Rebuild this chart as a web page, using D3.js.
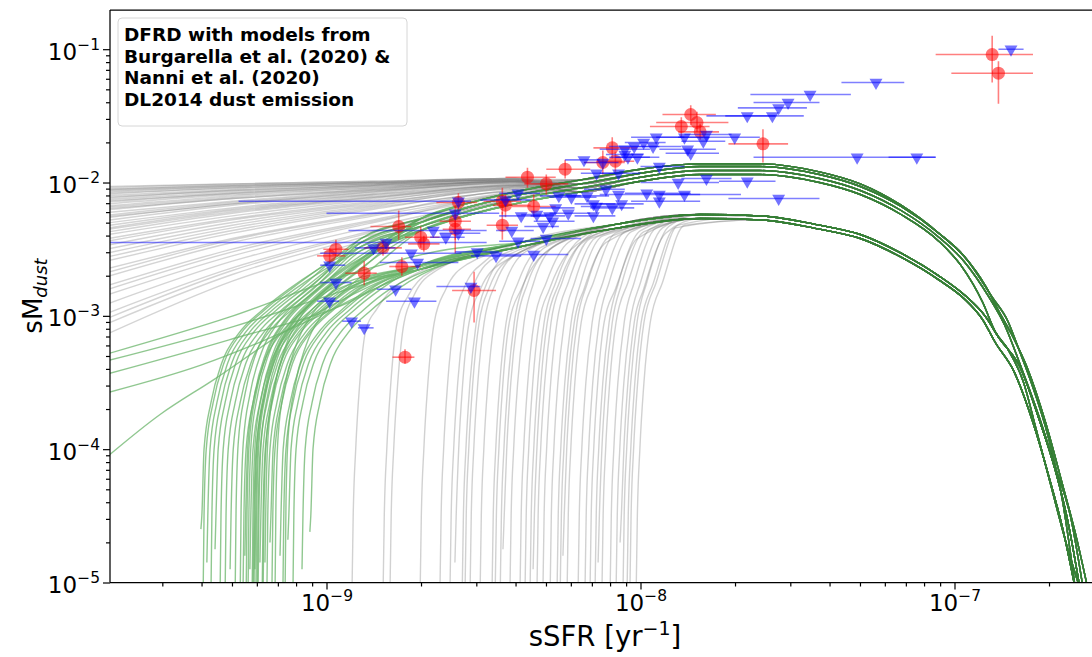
<!DOCTYPE html>
<html>
<head>
<meta charset="utf-8">
<script src="https://cdn.jsdelivr.net/npm/d3@7"></script>
<style>
  body { margin: 0; background: #fff; }
  svg { display: block; }
  text { font-family: "DejaVu Sans", sans-serif; }
</style>
</head>
<body>
<svg id="chart" width="1092" height="657"></svg>
<script>
// All values are log10(sSFR / yr^-1) and log10(sMdust)

// Tick exponents
const xTickExps = [-9, -8, -7];
const yTickExps = [-5, -4, -3, -2, -1];

// Convergence tracks of the models (upper and lower bundles)
const trackU0 = [[-9.08,-2.66],[-8.89,-2.48],[-8.70,-2.33],[-8.54,-2.21],[-8.38,-2.12],[-8.19,-2.04],[-8.00,-1.96],[-7.81,-1.91],[-7.62,-1.91],[-7.43,-1.97],[-7.30,-2.06],[-7.17,-2.21],[-7.05,-2.41],[-6.97,-2.59],[-6.89,-2.86],[-6.84,-3.07],[-6.79,-3.37],[-6.73,-3.76],[-6.68,-4.13],[-6.63,-4.51],[-6.59,-5.05]];
const trackU1 = [[-9.08,-2.63],[-8.89,-2.45],[-8.70,-2.30],[-8.54,-2.18],[-8.38,-2.09],[-8.19,-2.01],[-8.00,-1.93],[-7.81,-1.88],[-7.62,-1.88],[-7.43,-1.94],[-7.30,-2.03],[-7.17,-2.18],[-7.05,-2.38],[-6.97,-2.55],[-6.90,-2.78],[-6.86,-2.96],[-6.82,-3.13],[-6.77,-3.38],[-6.71,-3.80],[-6.66,-4.23],[-6.61,-4.68],[-6.575,-5.05]];
const trackU2 = [[-9.08,-2.69],[-8.89,-2.51],[-8.70,-2.36],[-8.54,-2.24],[-8.38,-2.15],[-8.19,-2.07],[-8.00,-1.99],[-7.81,-1.94],[-7.62,-1.94],[-7.43,-2.00],[-7.30,-2.09],[-7.17,-2.24],[-7.05,-2.44],[-6.98,-2.62],[-6.91,-2.90],[-6.87,-3.12],[-6.83,-3.25],[-6.78,-3.50],[-6.74,-3.85],[-6.69,-4.30],[-6.645,-4.70],[-6.60,-5.05]];
const trackU3 = [[-9.08,-2.60],[-8.89,-2.42],[-8.70,-2.27],[-8.54,-2.15],[-8.38,-2.06],[-8.19,-1.98],[-8.00,-1.90],[-7.81,-1.86],[-7.62,-1.86],[-7.43,-1.92],[-7.30,-2.01],[-7.17,-2.17],[-7.05,-2.38],[-6.96,-2.58],[-6.88,-2.86],[-6.83,-3.04],[-6.80,-3.22],[-6.76,-3.47],[-6.70,-3.92],[-6.655,-4.40],[-6.615,-5.05]];
const trackL0 = [[-8.99,-2.88],[-8.70,-2.62],[-8.38,-2.45],[-8.07,-2.31],[-7.81,-2.24],[-7.62,-2.25],[-7.43,-2.32],[-7.30,-2.39],[-7.17,-2.53],[-7.05,-2.70],[-6.97,-2.84],[-6.90,-3.01],[-6.86,-3.16],[-6.79,-3.39],[-6.73,-3.78],[-6.68,-4.15],[-6.64,-4.53],[-6.60,-5.05]];
const trackL1 = [[-8.99,-2.91],[-8.70,-2.65],[-8.38,-2.48],[-8.07,-2.34],[-7.81,-2.27],[-7.62,-2.28],[-7.43,-2.35],[-7.30,-2.42],[-7.17,-2.56],[-7.05,-2.73],[-6.97,-2.87],[-6.91,-3.03],[-6.87,-3.20],[-6.81,-3.42],[-6.75,-3.80],[-6.70,-4.20],[-6.655,-4.60],[-6.615,-5.05]];

// Gray models coming in flat from the left, sampled on flatGrid
const flatGrid = [-9.72, -9.30, -8.85, -8.40];
const grayFlat = [
  ["U0",-2.03,-2.01,-1.99,-1.97],["U1",-2.04,-2.01,-1.99,-1.97],["U2",-2.05,-2.02,-2.00,-1.97],["U3",-2.055,-2.02,-2.00,-1.97],
  ["U0",-2.06,-2.03,-2.00,-1.98],["U1",-2.07,-2.03,-2.00,-1.98],["U2",-2.08,-2.04,-2.01,-1.98],["U3",-2.09,-2.04,-2.01,-1.98],
  ["U0",-2.10,-2.05,-2.01,-1.98],["U1",-2.11,-2.06,-2.02,-1.98],["U2",-2.12,-2.06,-2.02,-1.98],["U3",-2.13,-2.07,-2.02,-1.99],
  ["U0",-2.14,-2.08,-2.03,-1.99],["U1",-2.15,-2.08,-2.03,-1.99],["U2",-2.165,-2.09,-2.04,-1.99],["U3",-2.18,-2.10,-2.04,-1.99],
  ["U0",-2.19,-2.11,-2.05,-1.99],["U1",-2.20,-2.12,-2.05,-1.99],["U2",-2.21,-2.12,-2.06,-1.99],["U3",-2.23,-2.14,-2.06,-2.00],
  ["U0",-2.25,-2.15,-2.07,-2.00],["U1",-2.26,-2.16,-2.07,-2.00],["U2",-2.27,-2.16,-2.08,-2.00],["U3",-2.29,-2.17,-2.09,-2.01],
  ["U0",-2.31,-2.19,-2.09,-2.01],["U1",-2.33,-2.20,-2.10,-2.02],["U2",-2.35,-2.21,-2.11,-2.02],["U3",-2.36,-2.22,-2.11,-2.02],
  ["U0",-2.38,-2.23,-2.12,-2.02],["U1",-2.40,-2.25,-2.13,-2.03],["U2",-2.43,-2.27,-2.14,-2.03],["U3",-2.45,-2.28,-2.15,-2.03],
  ["U0",-2.48,-2.30,-2.16,-2.04],["U1",-2.51,-2.32,-2.17,-2.04],["U2",-2.54,-2.34,-2.18,-2.05],["U3",-2.57,-2.36,-2.19,-2.05],
  ["U0",-2.60,-2.38,-2.20,-2.06],["U1",-2.66,-2.42,-2.23,-2.07],["U2",-2.69,-2.43,-2.24,-2.07],["U3",-2.72,-2.45,-2.25,-2.07],
  ["U0",-2.79,-2.50,-2.28,-2.08],["U1",-2.82,-2.52,-2.29,-2.09],["U2",-2.86,-2.55,-2.30,-2.09],["U3",-2.93,-2.59,-2.33,-2.10],
  ["U0",-3.00,-2.64,-2.36,-2.12],["U1",-3.04,-2.66,-2.37,-2.12],["U2",-3.08,-2.69,-2.39,-2.13],["U3",-3.16,-2.74,-2.42,-2.14]
];

// Gray models rising steeply from the bottom
const grayRise = [
  ["L0",[[-8.919,-5.1],[-8.915,-4.5],[-8.907,-4.0],[-8.894,-3.5],[-8.874,-3.1],[-8.84,-2.95],[-8.77,-2.76]]],
  ["L1",[[-8.820,-5.1],[-8.816,-4.5],[-8.808,-4.0],[-8.795,-3.5],[-8.775,-3.05],[-8.74,-2.85],[-8.67,-2.67]]],
  ["L0",[[-8.798,-5.1],[-8.794,-4.5],[-8.786,-4.0],[-8.773,-3.5],[-8.753,-3.05],[-8.72,-2.84],[-8.65,-2.66]]],
  ["L1",[[-8.702,-5.1],[-8.698,-4.5],[-8.690,-4.0],[-8.677,-3.5],[-8.657,-3.05],[-8.62,-2.80],[-8.55,-2.61]]],
  ["L0",[[-8.639,-5.1],[-8.635,-4.5],[-8.627,-4.0],[-8.614,-3.5],[-8.594,-3.05],[-8.56,-2.78],[-8.49,-2.58]]],
  ["L1",[[-8.607,-5.1],[-8.603,-4.5],[-8.595,-4.0],[-8.582,-3.5],[-8.562,-3.05],[-8.53,-2.76],[-8.46,-2.56]]],
  ["L0",[[-8.591,-4.85],[-8.587,-4.5],[-8.579,-4.0],[-8.566,-3.5],[-8.546,-3.05],[-8.51,-2.80],[-8.44,-2.60]]],
  ["L1",[[-8.568,-5.1],[-8.564,-4.5],[-8.556,-4.0],[-8.543,-3.5],[-8.523,-3.05],[-8.49,-2.76],[-8.42,-2.54]]],
  ["L0",[[-8.559,-5.1],[-8.555,-4.5],[-8.547,-4.0],[-8.534,-3.5],[-8.514,-3.05],[-8.48,-2.78],[-8.41,-2.56]]],
  ["L1",[[-8.543,-5.1],[-8.539,-4.5],[-8.531,-4.0],[-8.518,-3.5],[-8.498,-3.05],[-8.46,-2.75],[-8.39,-2.53]]],
  ["L0",[[-8.511,-5.1],[-8.507,-4.5],[-8.499,-4.0],[-8.486,-3.5],[-8.466,-3.05],[-8.43,-2.75],[-8.36,-2.51]]],
  ["L1",[[-8.473,-5.1],[-8.469,-4.5],[-8.461,-4.0],[-8.448,-3.5],[-8.428,-3.05],[-8.39,-2.75],[-8.32,-2.49]]],
  ["L0",[[-8.463,-5.1],[-8.459,-4.5],[-8.451,-4.0],[-8.438,-3.5],[-8.418,-3.05],[-8.38,-2.80],[-8.31,-2.54]]],
  ["L1",[[-8.447,-5.1],[-8.443,-4.5],[-8.435,-4.0],[-8.422,-3.5],[-8.402,-3.05],[-8.37,-2.75],[-8.30,-2.48]]],
  ["L0",[[-8.438,-4.75],[-8.434,-4.5],[-8.426,-4.0],[-8.413,-3.5],[-8.393,-3.05],[-8.36,-2.76],[-8.29,-2.50]]],
  ["L1",[[-8.416,-5.1],[-8.412,-4.5],[-8.404,-4.0],[-8.391,-3.5],[-8.371,-3.05],[-8.34,-2.75],[-8.27,-2.47]]],
  ["L0",[[-8.384,-5.1],[-8.380,-4.5],[-8.372,-4.0],[-8.359,-3.5],[-8.339,-3.05],[-8.30,-2.75],[-8.23,-2.45]]],
  ["L1",[[-8.368,-5.1],[-8.364,-4.5],[-8.356,-4.0],[-8.343,-3.5],[-8.323,-3.05],[-8.29,-2.80],[-8.22,-2.50]]],
  ["L0",[[-8.352,-5.1],[-8.348,-4.5],[-8.340,-4.0],[-8.327,-3.5],[-8.307,-3.05],[-8.27,-2.75],[-8.20,-2.44]]],
  ["L1",[[-8.342,-4.9],[-8.338,-4.5],[-8.330,-4.0],[-8.317,-3.5],[-8.297,-3.05],[-8.26,-2.76],[-8.19,-2.46]]],
  ["L0",[[-8.330,-5.1],[-8.326,-4.5],[-8.318,-4.0],[-8.305,-3.5],[-8.285,-3.05],[-8.25,-2.75],[-8.18,-2.43]]],
  ["L1",[[-8.311,-5.1],[-8.307,-4.5],[-8.299,-4.0],[-8.286,-3.5],[-8.266,-3.05],[-8.23,-2.75],[-8.16,-2.42]]],
  ["L0",[[-8.288,-5.1],[-8.284,-4.5],[-8.276,-4.0],[-8.263,-3.5],[-8.243,-3.05],[-8.21,-2.75],[-8.14,-2.41]]],
  ["L1",[[-8.266,-5.1],[-8.262,-4.5],[-8.254,-4.0],[-8.241,-3.5],[-8.221,-3.05],[-8.19,-2.75],[-8.12,-2.40]]],
  ["L0",[[-8.256,-5.1],[-8.252,-4.5],[-8.244,-4.0],[-8.231,-3.5],[-8.211,-3.05],[-8.18,-2.80],[-8.11,-2.45]]],
  ["L1",[[-8.247,-4.8],[-8.243,-4.5],[-8.235,-4.0],[-8.222,-3.5],[-8.202,-3.05],[-8.17,-2.76],[-8.10,-2.41]]],
  ["L0",[[-8.234,-5.1],[-8.230,-4.5],[-8.222,-4.0],[-8.209,-3.5],[-8.189,-3.05],[-8.15,-2.75],[-8.08,-2.38]]],
  ["L1",[[-8.199,-5.1],[-8.195,-4.5],[-8.187,-4.0],[-8.174,-3.5],[-8.154,-3.05],[-8.12,-2.75],[-8.05,-2.37]]],
  ["L0",[[-8.177,-5.1],[-8.173,-4.5],[-8.165,-4.0],[-8.152,-3.5],[-8.132,-3.05],[-8.10,-2.75],[-8.03,-2.37]]],
  ["L1",[[-8.161,-5.1],[-8.157,-4.5],[-8.149,-4.0],[-8.136,-3.5],[-8.116,-3.05],[-8.08,-2.80],[-8.01,-2.42]]],
  ["L0",[[-8.145,-5.1],[-8.141,-4.5],[-8.133,-4.0],[-8.120,-3.5],[-8.100,-3.05],[-8.07,-2.75],[-8.00,-2.36]]],
  ["L1",[[-8.135,-4.85],[-8.131,-4.5],[-8.123,-4.0],[-8.110,-3.5],[-8.090,-3.05],[-8.06,-2.76],[-7.99,-2.37]]],
  ["L0",[[-8.123,-5.1],[-8.119,-4.5],[-8.111,-4.0],[-8.098,-3.5],[-8.078,-3.05],[-8.04,-2.75],[-7.97,-2.35]]],
  ["L1",[[-8.097,-5.1],[-8.093,-4.5],[-8.085,-4.0],[-8.072,-3.5],[-8.052,-3.05],[-8.02,-2.75],[-7.95,-2.34]]],
  ["L0",[[-8.078,-5.1],[-8.074,-4.5],[-8.066,-4.0],[-8.053,-3.5],[-8.033,-3.05],[-8.00,-2.75],[-7.93,-2.34]]],
  ["L1",[[-8.065,-4.7],[-8.061,-4.5],[-8.053,-4.0],[-8.040,-3.5],[-8.020,-3.05],[-7.99,-2.80],[-7.92,-2.38]]],
  ["L0",[[-8.056,-5.1],[-8.052,-4.5],[-8.044,-4.0],[-8.031,-3.5],[-8.011,-3.05],[-7.98,-2.75],[-7.91,-2.33]]],
  ["L1",[[-8.043,-5.1],[-8.039,-4.5],[-8.031,-4.0],[-8.018,-3.5],[-7.998,-3.05],[-7.96,-2.76],[-7.89,-2.34]]],
  ["L0",[[-8.034,-5.1],[-8.030,-4.5],[-8.022,-4.0],[-8.009,-3.5],[-7.989,-3.05],[-7.95,-2.75],[-7.88,-2.32]]],
  ["L1",[[-8.014,-5.1],[-8.010,-4.5],[-8.002,-4.0],[-7.989,-3.5],[-7.969,-3.05],[-7.93,-2.75],[-7.86,-2.32]]]
];

// Green models rising from the bottom at low sSFR
const greenRise = [
  ["U0",[[-9.400,-4.6],[-9.397,-4.5],[-9.390,-4.0],[-9.368,-3.65],[-9.333,-3.35],[-9.279,-3.13],[-9.206,-2.96],[-9.120,-2.80]]],
  ["U1",[[-9.393,-5.1],[-9.390,-4.5],[-9.383,-4.0],[-9.361,-3.65],[-9.326,-3.35],[-9.272,-3.13],[-9.199,-2.96],[-9.113,-2.80]]],
  ["U2",[[-9.381,-4.85],[-9.378,-4.5],[-9.371,-4.0],[-9.349,-3.65],[-9.314,-3.35],[-9.260,-3.13],[-9.187,-2.96],[-9.101,-2.80]]],
  ["U3",[[-9.368,-5.1],[-9.365,-4.5],[-9.358,-4.0],[-9.336,-3.65],[-9.301,-3.35],[-9.247,-3.13],[-9.174,-2.96],[-9.088,-2.80]]],
  ["U0",[[-9.355,-4.75],[-9.352,-4.5],[-9.345,-4.0],[-9.323,-3.65],[-9.288,-3.35],[-9.234,-3.13],[-9.161,-2.96],[-9.075,-2.80]]],
  ["U1",[[-9.339,-5.1],[-9.336,-4.5],[-9.329,-4.0],[-9.307,-3.65],[-9.272,-3.35],[-9.218,-3.13],[-9.145,-2.96],[-9.059,-2.80]]],
  ["U1",[[-9.323,-5.1],[-9.320,-4.5],[-9.313,-4.0],[-9.291,-3.65],[-9.256,-3.35],[-9.202,-3.13],[-9.129,-2.96],[-9.043,-2.80]]],
  ["U2",[[-9.307,-4.9],[-9.304,-4.5],[-9.297,-4.0],[-9.275,-3.65],[-9.240,-3.35],[-9.186,-3.13],[-9.113,-2.96],[-9.027,-2.80]]],
  ["U3",[[-9.291,-5.1],[-9.288,-4.45],[-9.281,-3.95],[-9.259,-3.58],[-9.224,-3.28],[-9.170,-3.05],[-9.097,-2.87],[-9.011,-2.70]]],
  ["U0",[[-9.275,-5.1],[-9.272,-4.45],[-9.265,-3.95],[-9.243,-3.58],[-9.208,-3.28],[-9.154,-3.05],[-9.081,-2.87],[-8.995,-2.70]]],
  ["L0",[[-9.266,-5.1],[-9.263,-4.5],[-9.256,-4.0],[-9.234,-3.65],[-9.199,-3.35],[-9.145,-3.13],[-9.072,-2.96],[-8.986,-2.80]]],
  ["U1",[[-9.260,-4.8],[-9.257,-4.45],[-9.250,-3.95],[-9.228,-3.58],[-9.193,-3.28],[-9.139,-3.05],[-9.066,-2.87],[-8.980,-2.70]]],
  ["U2",[[-9.256,-5.1],[-9.253,-4.45],[-9.246,-3.95],[-9.224,-3.58],[-9.189,-3.28],[-9.135,-3.05],[-9.062,-2.87],[-8.976,-2.70]]],
  ["U2",[[-9.250,-5.1],[-9.247,-4.45],[-9.240,-3.95],[-9.218,-3.58],[-9.183,-3.28],[-9.129,-3.05],[-9.056,-2.87],[-8.970,-2.70]]],
  ["L1",[[-9.244,-4.9],[-9.241,-4.5],[-9.234,-4.0],[-9.212,-3.65],[-9.177,-3.35],[-9.123,-3.13],[-9.050,-2.96],[-8.964,-2.80]]],
  ["U3",[[-9.237,-5.1],[-9.234,-4.45],[-9.227,-3.95],[-9.205,-3.58],[-9.170,-3.28],[-9.116,-3.05],[-9.043,-2.87],[-8.957,-2.70]]],
  ["L0",[[-9.234,-5.1],[-9.231,-4.5],[-9.224,-4.0],[-9.202,-3.65],[-9.167,-3.35],[-9.113,-3.13],[-9.040,-2.96],[-8.954,-2.80]]],
  ["U3",[[-9.231,-5.1],[-9.228,-4.45],[-9.221,-3.95],[-9.199,-3.58],[-9.164,-3.28],[-9.110,-3.05],[-9.037,-2.87],[-8.951,-2.70]]],
  ["U0",[[-9.228,-4.9],[-9.225,-4.45],[-9.218,-3.95],[-9.196,-3.58],[-9.161,-3.28],[-9.107,-3.05],[-9.034,-2.87],[-8.948,-2.70]]],
  ["U0",[[-9.225,-5.1],[-9.222,-4.45],[-9.215,-3.95],[-9.193,-3.58],[-9.158,-3.28],[-9.104,-3.05],[-9.031,-2.87],[-8.945,-2.70]]],
  ["L1",[[-9.221,-5.1],[-9.218,-4.5],[-9.211,-4.0],[-9.189,-3.65],[-9.154,-3.35],[-9.100,-3.13],[-9.027,-2.96],[-8.941,-2.80]]],
  ["U1",[[-9.218,-5.1],[-9.215,-4.45],[-9.208,-3.95],[-9.186,-3.58],[-9.151,-3.28],[-9.097,-3.05],[-9.024,-2.87],[-8.938,-2.70]]],
  ["L0",[[-9.212,-4.85],[-9.209,-4.5],[-9.202,-4.0],[-9.180,-3.65],[-9.145,-3.35],[-9.091,-3.13],[-9.018,-2.96],[-8.932,-2.80]]],
  ["L0",[[-9.205,-5.1],[-9.202,-4.5],[-9.195,-4.0],[-9.173,-3.65],[-9.138,-3.35],[-9.084,-3.13],[-9.011,-2.96],[-8.925,-2.80]]],
  ["U2",[[-9.202,-5.1],[-9.199,-4.45],[-9.192,-3.95],[-9.170,-3.58],[-9.135,-3.28],[-9.081,-3.05],[-9.008,-2.87],[-8.922,-2.70]]],
  ["U1",[[-9.196,-4.85],[-9.193,-4.4],[-9.186,-3.9],[-9.164,-3.52],[-9.129,-3.22],[-9.075,-2.98],[-9.002,-2.80],[-8.916,-2.64]]],
  ["L1",[[-9.190,-5.1],[-9.187,-4.5],[-9.180,-4.0],[-9.158,-3.65],[-9.123,-3.35],[-9.069,-3.13],[-8.996,-2.96],[-8.910,-2.80]]],
  ["L0",[[-9.180,-4.7],[-9.177,-4.5],[-9.170,-4.0],[-9.148,-3.65],[-9.113,-3.35],[-9.059,-3.13],[-8.986,-2.96],[-8.900,-2.80]]],
  ["L1",[[-9.174,-5.1],[-9.171,-4.5],[-9.164,-4.0],[-9.142,-3.65],[-9.107,-3.35],[-9.053,-3.13],[-8.980,-2.96],[-8.894,-2.80]]],
  ["U3",[[-9.164,-5.1],[-9.161,-4.4],[-9.154,-3.9],[-9.132,-3.52],[-9.097,-3.22],[-9.043,-2.98],[-8.970,-2.80],[-8.884,-2.64]]],
  ["L1",[[-9.148,-4.8],[-9.145,-4.5],[-9.138,-4.0],[-9.116,-3.65],[-9.081,-3.35],[-9.027,-3.13],[-8.954,-2.96],[-8.868,-2.80]]],
  ["L0",[[-9.139,-5.1],[-9.136,-4.5],[-9.129,-4.0],[-9.107,-3.65],[-9.072,-3.35],[-9.018,-3.13],[-8.945,-2.96],[-8.859,-2.80]]],
  ["U2",[[-9.132,-5.1],[-9.129,-4.4],[-9.122,-3.9],[-9.100,-3.52],[-9.065,-3.22],[-9.011,-2.98],[-8.938,-2.80],[-8.852,-2.64]]],
  ["L1",[[-9.123,-4.68],[-9.120,-4.5],[-9.113,-4.0],[-9.091,-3.65],[-9.056,-3.35],[-9.002,-3.13],[-8.929,-2.96],[-8.843,-2.80]]],
  ["L0",[[-9.107,-5.1],[-9.104,-4.5],[-9.097,-4.0],[-9.075,-3.65],[-9.040,-3.35],[-8.986,-3.13],[-8.913,-2.96],[-8.827,-2.80]]],
  ["L1",[[-9.078,-4.9],[-9.075,-4.5],[-9.068,-4.0],[-9.046,-3.65],[-9.011,-3.35],[-8.957,-3.13],[-8.884,-2.96],[-8.798,-2.80]]],
  ["L0",[[-9.053,-4.62],[-9.050,-4.5],[-9.043,-4.0],[-9.021,-3.65],[-8.986,-3.35],[-8.932,-3.13],[-8.859,-2.96],[-8.773,-2.80]]]
];

// Green models entering from the left edge
const greenShallow = [
  ["L0",[[-9.72,-3.30],[-9.31,-3.01],[-8.93,-2.69],[-8.61,-2.50]]],
  ["L1",[[-9.72,-3.35],[-9.31,-3.09],[-8.93,-2.80],[-8.65,-2.60]]],
  ["L0",[[-9.72,-3.45],[-9.31,-3.18],[-8.93,-2.90]]],
  ["L1",[[-9.72,-3.59],[-9.40,-3.37],[-9.06,-3.04],[-8.85,-2.80]]],
  ["L0",[[-9.72,-4.10],[-9.53,-3.74],[-9.36,-3.48],[-9.12,-3.10],[-8.95,-2.88]]]
];

// Detections: [logSSFR, logSMdust, xLow, xHigh, yLow, yHigh]
const redPoints = [
  [-8.99,-2.55,-9.03,-8.94,-2.61,-2.49],[-8.97,-2.50,-9.01,-8.93,-2.55,-2.43],
  [-8.88,-2.68,-8.94,-8.84,-2.77,-2.59],[-8.82,-2.49,-8.88,-8.76,-2.55,-2.43],
  [-8.77,-2.33,-8.86,-8.73,-2.43,-2.21],[-8.76,-2.63,-8.80,-8.70,-2.70,-2.56],
  [-8.70,-2.41,-8.75,-8.64,-2.49,-2.33],[-8.69,-2.46,-8.74,-8.64,-2.52,-2.40],
  [-8.75,-3.31,-8.79,-8.72,-3.36,-3.25],[-8.58,-2.15,-8.65,-8.52,-2.23,-2.08],
  [-8.59,-2.29,-8.64,-8.54,-2.43,-2.17],[-8.59,-2.35,-8.63,-8.54,-2.53,-2.24],
  [-8.53,-2.81,-8.60,-8.46,-3.05,-2.67],[-8.44,-2.14,-8.50,-8.38,-2.24,-2.04],
  [-8.43,-2.17,-8.47,-8.35,-2.26,-2.09],[-8.44,-2.32,-8.49,-8.39,-2.43,-2.22],
  [-8.34,-2.18,-8.41,-8.27,-2.26,-2.09],[-8.36,-1.96,-8.43,-8.27,-2.04,-1.89],
  [-8.30,-2.01,-8.37,-8.23,-2.09,-1.94],[-8.24,-1.90,-8.30,-8.16,-1.97,-1.83],
  [-8.12,-1.85,-8.18,-8.05,-1.94,-1.76],[-8.09,-1.74,-8.15,-8.01,-1.82,-1.66],
  [-8.08,-1.84,-8.14,-8.02,-1.92,-1.77],[-7.87,-1.58,-7.97,-7.78,-1.66,-1.51],
  [-7.84,-1.49,-7.93,-7.76,-1.57,-1.42],[-7.82,-1.55,-7.95,-7.72,-1.62,-1.47],
  [-7.81,-1.62,-7.88,-7.75,-1.68,-1.56],[-7.61,-1.71,-7.72,-7.53,-1.85,-1.60],
  [-6.88,-1.04,-7.06,-6.75,-1.25,-0.90],[-6.86,-1.18,-7.01,-6.75,-1.41,-1.09]
];

// Upper limits: [logSSFR, logSMdust, xLow, xHigh]
const bluePoints = [
  [-8.99,-2.89,-9.03,-8.96],[-8.99,-2.62,-9.02,-8.94],[-8.97,-2.75,-9.02,-8.92],[-8.92,-3.04,-8.95,-8.89],
  [-8.88,-3.09,-8.90,-8.85],[-8.85,-2.49,-8.91,-8.78],[-8.81,-2.45,-9.72,-8.49],[-8.78,-2.80,-8.84,-8.73],
  [-8.73,-2.53,-9.02,-8.57],[-8.71,-2.60,-8.83,-8.58],[-8.72,-2.89,-8.81,-8.65],[-8.66,-2.36,-8.93,-8.49],
  [-8.62,-2.41,-8.67,-8.56],[-8.58,-2.38,-8.64,-8.51],[-8.58,-2.14,-9.28,-8.54],[-8.59,-2.23,-9.00,-8.45],
  [-8.54,-2.78,-8.65,-8.51],[-8.52,-2.52,-8.59,-8.45],[-8.46,-2.55,-8.54,-8.38],[-8.43,-2.13,-8.51,-8.35],
  [-8.41,-2.36,-8.46,-8.34],[-8.39,-2.44,-8.45,-8.32],[-8.39,-2.08,-8.45,-8.32],[-8.38,-2.25,-8.45,-8.30],
  [-8.34,-2.54,-8.45,-8.23],[-8.33,-2.24,-8.38,-8.27],[-8.31,-2.33,-8.37,-8.26],[-8.30,-2.42,-8.35,-8.19],
  [-8.29,-2.25,-8.35,-8.24],[-8.28,-2.29,-8.34,-8.21],[-8.27,-2.19,-8.32,-8.21],[-8.26,-2.10,-8.32,-8.19],
  [-8.23,-2.23,-8.29,-8.16],[-8.22,-2.11,-8.29,-8.14],[-8.18,-1.83,-8.24,-8.13],[-8.17,-2.10,-8.24,-8.10],
  [-8.15,-2.25,-8.21,-8.08],[-8.15,-2.16,-8.21,-8.08],[-8.14,-1.93,-8.19,-8.08],[-8.14,-2.18,-8.19,-8.07],
  [-8.12,-1.85,-8.18,-8.07],[-8.11,-2.05,-8.18,-8.05],[-8.09,-2.19,-8.16,-8.02],[-8.07,-2.09,-8.13,-8.00],
  [-8.07,-1.93,-8.13,-8.00],[-8.06,-2.16,-8.13,-7.99],[-8.05,-1.79,-8.11,-7.99],[-8.05,-1.75,-8.13,-7.97],
  [-8.04,-1.81,-8.10,-7.97],[-8.02,-1.73,-8.10,-7.94],[-8.01,-1.81,-8.08,-7.94],[-7.99,-1.70,-8.05,-7.92],
  [-7.98,-2.08,-8.05,-7.84],[-7.96,-1.73,-8.03,-7.87],[-7.95,-1.66,-8.03,-7.86],[-7.94,-2.14,-8.03,-7.81],
  [-7.94,-1.88,-8.00,-7.86],[-7.94,-2.09,-8.00,-7.81],[-7.88,-2.00,-8.00,-7.75],[-7.86,-1.66,-7.95,-7.78],
  [-7.86,-2.09,-7.94,-7.68],[-7.85,-1.75,-7.94,-7.76],[-7.84,-1.78,-7.92,-7.75],[-7.80,-1.69,-7.87,-7.73],
  [-7.79,-1.97,-7.87,-7.71],[-7.79,-1.64,-7.86,-7.71],[-7.70,-1.66,-7.88,-7.62],[-7.66,-1.50,-7.79,-7.57],
  [-7.66,-1.99,-7.75,-7.57],[-7.58,-1.50,-7.73,-7.48],[-7.56,-1.44,-7.69,-7.47],[-7.53,-1.40,-7.64,-7.43],
  [-7.46,-1.34,-7.65,-7.33],[-7.25,-1.25,-7.36,-7.16],[-7.56,-2.12,-7.72,-7.43],[-7.31,-1.81,-7.64,-7.06],
  [-7.12,-1.81,-7.21,-7.06],[-6.82,-1.00,-6.86,-6.78]
];

const legendLines = ["DFRD with models from", "Burgarella et al. (2020) &", "Nanni et al. (2020)", "DL2014 dust emission"];

// ---------------------------------------------------------------
const tracks = { U0: trackU0, U1: trackU1, U2: trackU2, U3: trackU3, L0: trackL0, L1: trackL1 };
const P = v => Math.pow(10, v);

const svg = d3.select("#chart");
const x = d3.scaleLog().domain([P(-9.6895), P(-6.5366)]).range([110, 1100]);
const y = d3.scaleLog().domain([1e-5, P(-0.706)]).range([582.5, 10]);

svg.append("defs").append("clipPath").attr("id", "plotclip")
  .append("rect").attr("x", 110).attr("y", 10).attr("width", 990).attr("height", 572.5);

const line = d3.line()
  .x(d => x(P(d[0])))
  .y(d => y(P(d[1])))
  .curve(d3.curveMonotoneX);

// own points of a model, then the bundle it runs into
function withTrack(key, pts) {
  const last = pts[pts.length - 1][0];
  return pts.concat(tracks[key].filter(q => q[0] > last + 0.1));
}

const models = svg.append("g").attr("clip-path", "url(#plotclip)").attr("fill", "none");

// gray models
grayFlat.forEach(row => {
  const pts = flatGrid.map((lx, i) => [lx, row[i + 1]]);
  models.append("path")
    .attr("d", line(withTrack(row[0], pts)))
    .attr("stroke", "gray").attr("stroke-opacity", 0.34).attr("stroke-width", 1.4);
});
grayRise.forEach(([key, pts]) => {
  models.append("path")
    .attr("d", line(withTrack(key, pts)))
    .attr("stroke", "gray").attr("stroke-opacity", 0.36).attr("stroke-width", 1.4);
});

// green models, in one semi-transparent layer so the shared bundles stay muted
const greenLayer = models.append("g").attr("opacity", 0.58);
greenRise.concat(greenShallow).forEach(([key, pts]) => {
  greenLayer.append("path")
    .attr("d", line(withTrack(key, pts)))
    .attr("stroke", "green").attr("stroke-opacity", 0.75).attr("stroke-width", 1.4);
});

// observations
const obs = svg.append("g").attr("clip-path", "url(#plotclip)");

obs.selectAll("line.rx").data(redPoints).join("line").attr("class", "rx")
  .attr("x1", d => x(P(d[2]))).attr("x2", d => x(P(d[3])))
  .attr("y1", d => y(P(d[1]))).attr("y2", d => y(P(d[1])))
  .attr("stroke", "red").attr("stroke-opacity", 0.5).attr("stroke-width", 1.6);
obs.selectAll("line.ry").data(redPoints).join("line").attr("class", "ry")
  .attr("x1", d => x(P(d[0]))).attr("x2", d => x(P(d[0])))
  .attr("y1", d => y(P(d[4]))).attr("y2", d => y(P(d[5])))
  .attr("stroke", "red").attr("stroke-opacity", 0.5).attr("stroke-width", 1.6);
obs.selectAll("circle.red").data(redPoints).join("circle").attr("class", "red")
  .attr("cx", d => x(P(d[0]))).attr("cy", d => y(P(d[1]))).attr("r", 6.5)
  .attr("fill", "red").attr("fill-opacity", 0.55);

obs.selectAll("line.bx").data(bluePoints).join("line").attr("class", "bx")
  .attr("x1", d => x(P(d[2]))).attr("x2", d => x(P(d[3])))
  .attr("y1", d => y(P(d[1]))).attr("y2", d => y(P(d[1])))
  .attr("stroke", "blue").attr("stroke-opacity", 0.5).attr("stroke-width", 1.6);
const tri = d3.symbol().type(d3.symbolTriangle).size(72);
obs.selectAll("path.blue").data(bluePoints).join("path").attr("class", "blue")
  .attr("d", tri())
  .attr("transform", d => `translate(${x(P(d[0]))},${y(P(d[1]))}) rotate(180)`)
  .attr("fill", "blue").attr("fill-opacity", 0.55);

// axes
const xMinor = x.ticks().filter(v => Math.abs(Math.log10(v) - Math.round(Math.log10(v))) > 1e-6);
const yMinor = y.ticks().filter(v => Math.abs(Math.log10(v) - Math.round(Math.log10(v))) > 1e-6);

function styleAxis(g) {
  g.select(".domain").remove();
  g.selectAll(".tick line").attr("stroke", "#000").attr("stroke-width", 1.2);
}

svg.append("g").attr("transform", "translate(0,582.5)")
  .call(d3.axisBottom(x).tickValues(xMinor).tickSize(4).tickFormat(""))
  .call(styleAxis);
svg.append("g").attr("transform", "translate(110,0)")
  .call(d3.axisLeft(y).tickValues(yMinor).tickSize(4).tickFormat(""))
  .call(styleAxis);

const xAxis = svg.append("g").attr("transform", "translate(0,582.5)")
  .call(d3.axisBottom(x).tickValues(xTickExps.map(P)).tickSize(7).tickFormat(""))
  .call(styleAxis);
xAxis.selectAll(".tick text").each(function(d, i) {
  const t = d3.select(this).text(null)
    .attr("y", 28).attr("dy", null).attr("fill", "#000")
    .attr("font-family", "DejaVu Sans").attr("font-size", 23);
  t.append("tspan").text("10");
  t.append("tspan").attr("dy", -10).attr("font-size", 15.5).text("\u2212" + Math.abs(xTickExps[i]));
});

const yAxis = svg.append("g").attr("transform", "translate(110,0)")
  .call(d3.axisLeft(y).tickValues(yTickExps.map(P)).tickSize(7).tickFormat(""))
  .call(styleAxis);
yAxis.selectAll(".tick text").each(function(d, i) {
  const t = d3.select(this).text(null)
    .attr("x", -10).attr("y", 10).attr("dy", null).attr("fill", "#000")
    .attr("text-anchor", "end")
    .attr("font-family", "DejaVu Sans").attr("font-size", 23);
  t.append("tspan").text("10");
  t.append("tspan").attr("dy", -10).attr("font-size", 15.5).text("\u2212" + Math.abs(yTickExps[i]));
});

// frame
const frame = svg.append("g").attr("stroke", "#000").attr("stroke-width", 1.25);
frame.append("line").attr("x1", 110).attr("x2", 110).attr("y1", 10).attr("y2", 582.5);
frame.append("line").attr("x1", 110).attr("x2", 1100).attr("y1", 582.5).attr("y2", 582.5);
frame.append("line").attr("x1", 110).attr("x2", 1100).attr("y1", 10).attr("y2", 10);

// axis labels
const xl = svg.append("text").attr("x", 605).attr("y", 646).attr("text-anchor", "middle")
  .attr("font-size", 27.5).attr("fill", "#000");
xl.append("tspan").text("sSFR [yr");
xl.append("tspan").attr("dy", -11).attr("font-size", 19).text("\u22121");
xl.append("tspan").attr("dy", 11).text("]");

const yl = svg.append("text").attr("transform", "translate(42,296) rotate(-90)")
  .attr("text-anchor", "middle").attr("font-size", 26).attr("fill", "#000");
yl.append("tspan").text("sM");
yl.append("tspan").attr("dy", 5).attr("font-size", 18).attr("font-style", "italic").text("dust");

// legend box
svg.append("rect").attr("x", 118).attr("y", 18).attr("width", 289).attr("height", 108).attr("rx", 4)
  .attr("fill", "#fff").attr("fill-opacity", 0.85).attr("stroke", "#d6d6d6").attr("stroke-width", 1);
svg.append("g").selectAll("text").data(legendLines).join("text")
  .attr("x", 124).attr("y", (d, i) => 41 + i * 21.7)
  .attr("font-size", 18.5).attr("font-weight", "bold").attr("fill", "#000")
  .text(d => d);
</script>
</body>
</html>
